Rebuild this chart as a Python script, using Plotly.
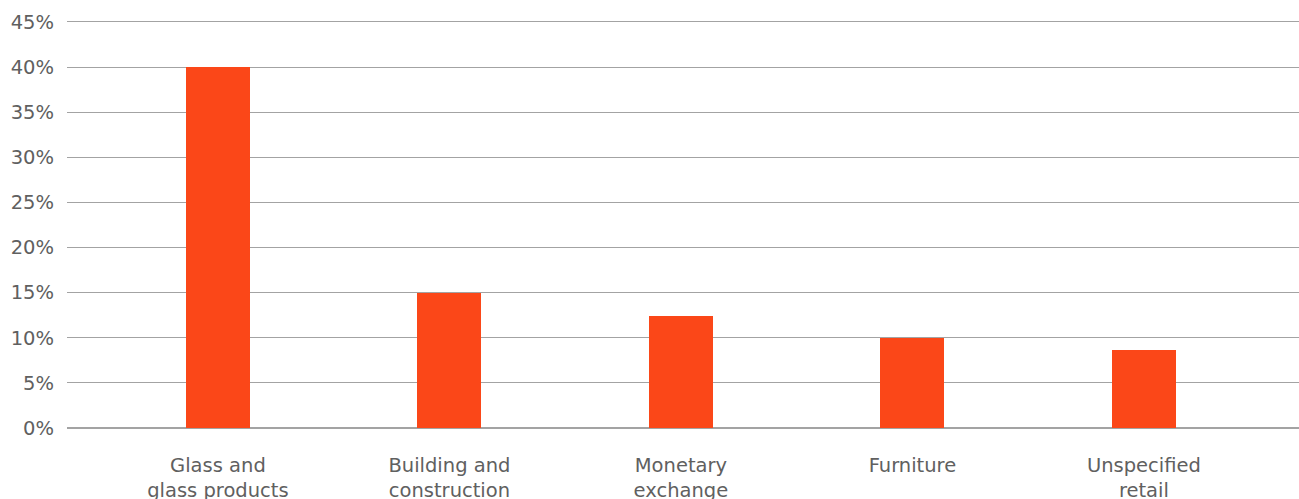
import plotly.graph_objects as go

categories = ["Glass and<br>glass products", "Building and<br>construction", "Monetary<br>exchange", "Furniture", "Unspecified<br>retail"]
values = [40, 15, 12.4, 10, 8.7]
y_ticks = [0, 5, 10, 15, 20, 25, 30, 35, 40, 45]
y_tick_labels = [f"{v}%" for v in y_ticks]

fig = go.Figure(go.Bar(
    x=list(range(len(categories))),
    y=values,
    marker_color="#FB4718",
    marker_line_width=0,
    width=0.276,
))

fig.update_layout(
    width=1299, height=499,
    margin=dict(l=67, r=0, t=19, b=71),
    paper_bgcolor="white", plot_bgcolor="white",
    font=dict(family="'DejaVu Sans', sans-serif", size=19.5, color="#606060"),
    showlegend=False,
    bargap=0,
)
fig.update_xaxes(
    tickmode="array", tickvals=list(range(len(categories))), ticktext=categories,
    range=[-0.652, 4.67], showgrid=False, zeroline=False, showline=False,
    ticks="", ticklabelstandoff=23, automargin=False,
)
fig.update_yaxes(
    tickmode="array", tickvals=y_ticks, ticktext=y_tick_labels,
    range=[0, 45.33], showgrid=True, gridcolor="#a3a3a3", gridwidth=1,
    zeroline=True, zerolinecolor="#a3a3a3", zerolinewidth=1.5,
    showline=False, ticks="", ticklabelstandoff=12, automargin=False,
)
fig.write_html("out.html", config={"displayModeBar": False},
               post_script="document.body.style.margin='0';document.body.style.overflow='hidden';")
